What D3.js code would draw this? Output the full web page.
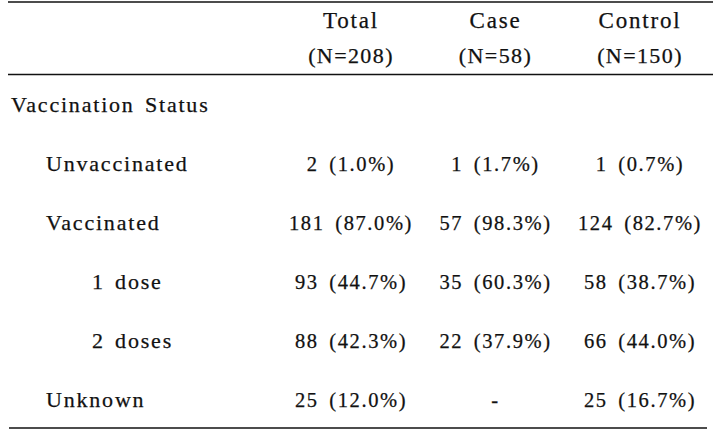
<!DOCTYPE html>
<html>
<head>
<meta charset="utf-8">
<script src="https://cdn.jsdelivr.net/npm/d3@7"></script>
<style>
  html, body { margin: 0; padding: 0; background: #fff; }
  svg { display: block; }
  text { font-family: "Liberation Serif", "Times New Roman", serif; fill: #111; stroke: #111; stroke-width: 0.25px; letter-spacing: 2px; }
</style>
</head>
<body>
<svg id="chart" width="713" height="437"></svg>
<script>
const columns = ["Total", "Case", "Control"];
const columnN = ["(N=208)", "(N=58)", "(N=150)"];
const rowLabels = ["Vaccination Status", "Unvaccinated", "Vaccinated", "1 dose", "2 doses", "Unknown"];
const rowLevels = [0, 1, 1, 2, 2, 1];
const totalCounts = [null, 2, 181, 93, 88, 25];
const totalPct = [null, 1.0, 87.0, 44.7, 42.3, 12.0];
const caseCounts = [null, 1, 57, 35, 22, null];
const casePct = [null, 1.7, 98.3, 60.3, 37.9, null];
const controlCounts = [null, 1, 124, 58, 66, 25];
const controlPct = [null, 0.7, 82.7, 38.7, 44.0, 16.7];

const W = 713, H = 437;
const svg = d3.select("#chart");

const x = d3.scalePoint().domain(columns).range([351, 640]);
const y = d3.scalePoint().domain(rowLabels).range([112, 407]);
const indent = d3.scaleOrdinal().domain([0, 1, 2]).range([11, 46, 92]);
const fmt = d3.format(".1f");

// rules
const rules = [
  {y: 2, x1: 8, x2: W},
  {y: 74.5, x1: 8, x2: W},
  {y: 428, x1: 9, x2: 707}
];
svg.selectAll("line.rule").data(rules).join("line")
  .attr("class", "rule")
  .attr("x1", d => d.x1).attr("x2", d => d.x2)
  .attr("y1", d => d.y).attr("y2", d => d.y)
  .attr("stroke", "#111").attr("stroke-width", 1.6);

// header
const header = svg.append("g");
header.selectAll("text.h1").data(columns).join("text")
  .attr("class", "h1")
  .attr("x", d => x(d)).attr("y", 28)
  .attr("text-anchor", "middle")
  .attr("font-size", 23)
  .style("letter-spacing", "1.8px")
  .text(d => d);
header.selectAll("text.h2").data(columns).join("text")
  .attr("class", "h2")
  .attr("x", d => x(d)).attr("y", 63)
  .attr("text-anchor", "middle")
  .attr("font-size", 22)
  .style("letter-spacing", "1.4px")
  .text((d, i) => columnN[i]);

// row labels
svg.selectAll("text.row").data(rowLabels).join("text")
  .attr("class", "row")
  .attr("x", (d, i) => indent(rowLevels[i]))
  .attr("y", d => y(d))
  .attr("font-size", 22)
  .style("letter-spacing", "1.8px")
  .style("word-spacing", "3px")
  .text(d => d);

// cells
const series = [
  {col: "Total", counts: totalCounts, pct: totalPct},
  {col: "Case", counts: caseCounts, pct: casePct},
  {col: "Control", counts: controlCounts, pct: controlPct}
];
series.forEach(s => {
  const cells = rowLabels.map((r, i) => ({
    row: r,
    text: i === 0 ? "" : (s.counts[i] == null ? "-" : `${s.counts[i]} (${fmt(s.pct[i])}%)`)
  })).filter(d => d.text !== "");
  svg.append("g").selectAll("text").data(cells).join("text")
    .attr("x", x(s.col))
    .attr("y", d => y(d.row))
    .attr("text-anchor", "middle")
    .attr("font-size", 20.5)
    .style("letter-spacing", "1.6px")
    .style("word-spacing", "4px")
    .text(d => d.text);
});
</script>
</body>
</html>
